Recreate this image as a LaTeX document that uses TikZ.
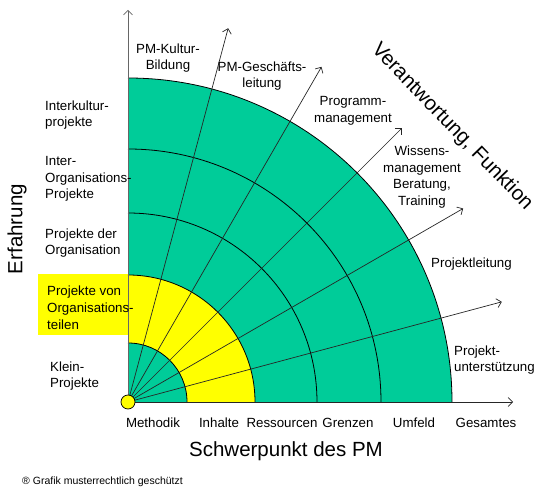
\documentclass[tikz,border=0pt]{standalone}
\usepackage{fontspec}
\setmainfont{Liberation Sans}
\usetikzlibrary{arrows.meta,calc}
\definecolor{pmgreen}{RGB}{0,204,153}
\definecolor{pmyellow}{RGB}{255,255,0}
\tikzset{
  lbl/.style={inner sep=0pt, font=\fontsize{13.3}{16.8}\selectfont},
  lbll/.style={lbl, align=left, anchor=west},
  lblc/.style={lbl, align=center},
  big/.style={inner sep=0pt, font=\fontsize{20.5}{24}\selectfont},
  ring/.style={draw=black, line width=0.8pt},
  ray/.style={draw=black!85, line width=0.7pt, -{Straight Barb[length=4.5pt,width=9pt]}}
}
\begin{document}
\begin{tikzpicture}[x=1pt,y=1pt]
\useasboundingbox (0,0) rectangle (550,-495);
\coordinate (O) at (128,-402);
% fills
\fill[pmyellow] (38,-274) rectangle (128,-335);
\fill[pmgreen] (O) -- ++(324,0) arc (0:90:324) -- cycle;
\fill[pmyellow] (O) -- ++(127,0) arc (0:90:127) -- cycle;
\fill[pmgreen] (O) -- ++(59,0) arc (0:90:59) -- cycle;
% rings
\foreach \r in {59,127,189,253,324}{
  \draw[ring] (O) ++(\r,0) arc (0:90:\r);
}
% axes
\coordinate (xend) at (513,-402);
\coordinate (yend) at (128,-10);
\draw[ray] (O) -- (xend);
\draw[ray, draw=black!60] (O) -- (yend);
% rays
\foreach \a/\n in {75/a,60/b,45/c,30/d,15/e}{
  \coordinate (r\n) at ($(O)+(\a:387)$);
}
\foreach \n in {a,b,c,d,e}{
  \draw[ray] (O) -- (r\n);
}
% origin dot
\node[circle, draw=black, fill=pmyellow, minimum size=14pt, inner sep=0pt, line width=0.7pt] (odot) at (O) {};
% left labels
\node[lbll] (l1) at (45,-115) {Interkultur-\\projekte};
\node[lbll] (l2) at (45,-179) {Inter-\\Organisations-\\Projekte};
\node[lbll] (l3) at (45,-243) {Projekte der\\Organisation};
\node[lbll] (l4) at (47,-308) {Projekte von\\Organisations-\\teilen};
\node[lbll] (l5) at (50,-376) {Klein-\\Projekte};
\node[big, rotate=90] (erf) at (17,-229) {Erfahrung};
% bottom labels
\node[lbl] (b1) at (153,-423) {Methodik};
\node[lbl] (b2) at (219,-423) {Inhalte};
\node[lbl] (b3) at (282,-423) {Ressourcen};
\node[lbl] (b4) at (348,-423) {Grenzen};
\node[lbl] (b5) at (414,-423) {Umfeld};
\node[lbl] (b6) at (486,-423) {Gesamtes};
\node[big] (sp) at (286,-451) {Schwerpunkt des PM};
% top labels
\node[lblc] (t1) at (168,-58) {PM-Kultur-\\Bildung};
\node[lblc] (t2) at (262,-76) {PM-Geschäfts-\\leitung};
\node[lblc] (t3) at (353,-111) {Programm-\\management};
\node[lblc] (t4) at (422,-177) {Wissens-\\management\\Beratung,\\Training};
\node[lbll] (t5) at (431,-264) {Projektleitung};
\node[lbll] (t6) at (454,-360) {Projekt-\\unterstützung};
\node[big, rotate=-46] (vf) at (452,-127) {Verantwortung, Funktion};
% footnote
\node[inner sep=0pt, anchor=west, font=\fontsize{10.5}{12}\selectfont] (fn) at (22,-482) {® Grafik musterrechtlich geschützt};
\end{tikzpicture}
\end{document}
